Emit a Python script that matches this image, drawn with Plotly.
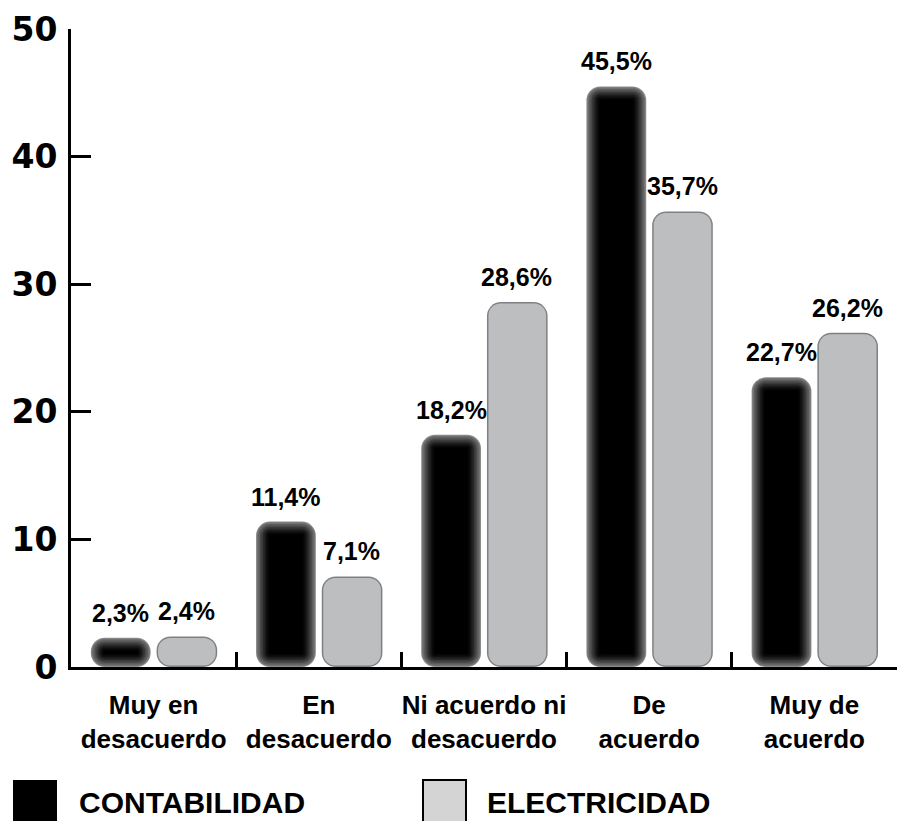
import plotly.graph_objects as go

# ---- data -------------------------------------------------------------
categories = [
    "Muy en<br>desacuerdo",
    "En<br>desacuerdo",
    "Ni acuerdo ni<br>desacuerdo",
    "De<br>acuerdo",
    "Muy de<br>acuerdo",
]
contabilidad = [2.3, 11.4, 18.2, 45.5, 22.7]
electricidad = [2.4, 7.1, 28.6, 35.7, 26.2]
series_names = ["CONTABILIDAD", "ELECTRICIDAD"]
y_ticks = [0, 10, 20, 30, 40, 50]

# ---- geometry ---------------------------------------------------------
W, H = 899, 821
MARGIN = dict(l=71, r=2, t=29, b=154)
PLOT_W = W - MARGIN["l"] - MARGIN["r"]
PLOT_H = H - MARGIN["t"] - MARGIN["b"]
Y_MAX = 50
PX_Y = Y_MAX / PLOT_H              # y units per pixel
PX_X = len(categories) / PLOT_W    # category units per pixel

BAR_W = 0.362
OFFSETS = {"CONTABILIDAD": -0.38, "ELECTRICIDAD": 0.018}
RADIUS = 14

# (inset px, grey level) rings that give the dark bars a soft edge
DARK_RINGS = [(0, 140), (1, 112), (2.5, 92), (4, 74), (5.5, 57),
              (7, 41), (8.5, 27), (10, 15), (11.5, 6), (13, 0)]
LIGHT_RINGS = [(0, "#7f8083"), (1.5, "#bcbec0")]


def px_to_paper_x(px):
    return (px - MARGIN["l"]) / PLOT_W


def px_to_paper_y(py):
    return (MARGIN["t"] + PLOT_H - py) / PLOT_H


def rounded_bar(values, offset, width, inset, color):
    """One ring of a bar; giving a base rounds both ends of the bar."""
    bases, lengths = [], []
    for v in values:
        dv = min(inset * PX_Y, v / 2 - 1.5 * PX_Y)
        bases.append(dv)
        lengths.append(v - 2 * dv)
    dx = inset * PX_X
    r = max(RADIUS - inset, 2)
    return go.Bar(
        x=categories,
        y=lengths,
        base=bases,
        offset=offset + dx,
        width=width - 2 * dx,
        marker=dict(color=color, cornerradius=r, line=dict(width=0)),
        hoverinfo="skip",
        showlegend=False,
    )


fig = go.Figure()

for inset, g in DARK_RINGS:
    fig.add_trace(rounded_bar(contabilidad, OFFSETS["CONTABILIDAD"], BAR_W,
                              inset, f"rgb({g},{g},{g})"))

for inset, c in LIGHT_RINGS:
    fig.add_trace(rounded_bar(electricidad, OFFSETS["ELECTRICIDAD"],
                              BAR_W + 0.005, inset, c))

# ---- value labels -----------------------------------------------------
annotations = []
for name, values in zip(series_names, [contabilidad, electricidad]):
    center = (OFFSETS[name] + BAR_W / 2) / PX_X
    for cat, v in zip(categories, values):
        annotations.append(dict(
            x=cat, y=v, xref="x", yref="y",
            text=f"{v:.1f}".replace(".", ",") + "%",
            showarrow=False, yanchor="bottom", xanchor="center",
            xshift=center, yshift=9,
            font=dict(family="Liberation Sans", size=25, color="black",
                      weight="bold"),
        ))

# ---- legend (large swatches) -----------------------------------------
shapes = [
    dict(type="rect", xref="paper", yref="paper",
         x0=px_to_paper_x(13), x1=px_to_paper_x(57),
         y0=px_to_paper_y(780), y1=px_to_paper_y(840),
         fillcolor="black", line=dict(width=0)),
    dict(type="rect", xref="paper", yref="paper",
         x0=px_to_paper_x(423), x1=px_to_paper_x(466),
         y0=px_to_paper_y(780), y1=px_to_paper_y(840),
         fillcolor="#d4d4d4", line=dict(color="black", width=2)),
]
for name, left in zip(series_names, [77, 485]):
    annotations.append(dict(
        x=px_to_paper_x(left), y=px_to_paper_y(802),
        xref="paper", yref="paper", xanchor="left", yanchor="middle",
        text=name, showarrow=False,
        font=dict(family="Liberation Sans", size=30, color="black",
                  weight="bold"),
    ))

fig.update_layout(
    width=W, height=H,
    margin=MARGIN,
    barmode="overlay",
    paper_bgcolor="white",
    plot_bgcolor="white",
    showlegend=False,
    annotations=annotations,
    shapes=shapes,
    xaxis=dict(
        type="category",
        range=[-0.5, len(categories) - 0.5],
        showline=True, linecolor="black", linewidth=3,
        ticks="inside", ticklen=15, tickwidth=3, tickcolor="black",
        tickson="boundaries",
        tickangle=0,
        automargin=False,
        showgrid=False, zeroline=False,
        ticklabelstandoff=13,
        tickfont=dict(family="Liberation Sans", size=26, color="black",
                      weight="bold"),
    ),
    yaxis=dict(
        range=[0, Y_MAX],
        tickvals=y_ticks,
        showline=True, linecolor="black", linewidth=3,
        ticks="inside", ticklen=20, tickwidth=3, tickcolor="black",
        automargin=False,
        showgrid=False, zeroline=False,
        ticklabelstandoff=4,
        tickfont=dict(family="DejaVu Sans", size=33, color="black",
                      weight="bold"),
    ),
)

fig.write_html("out.html")
